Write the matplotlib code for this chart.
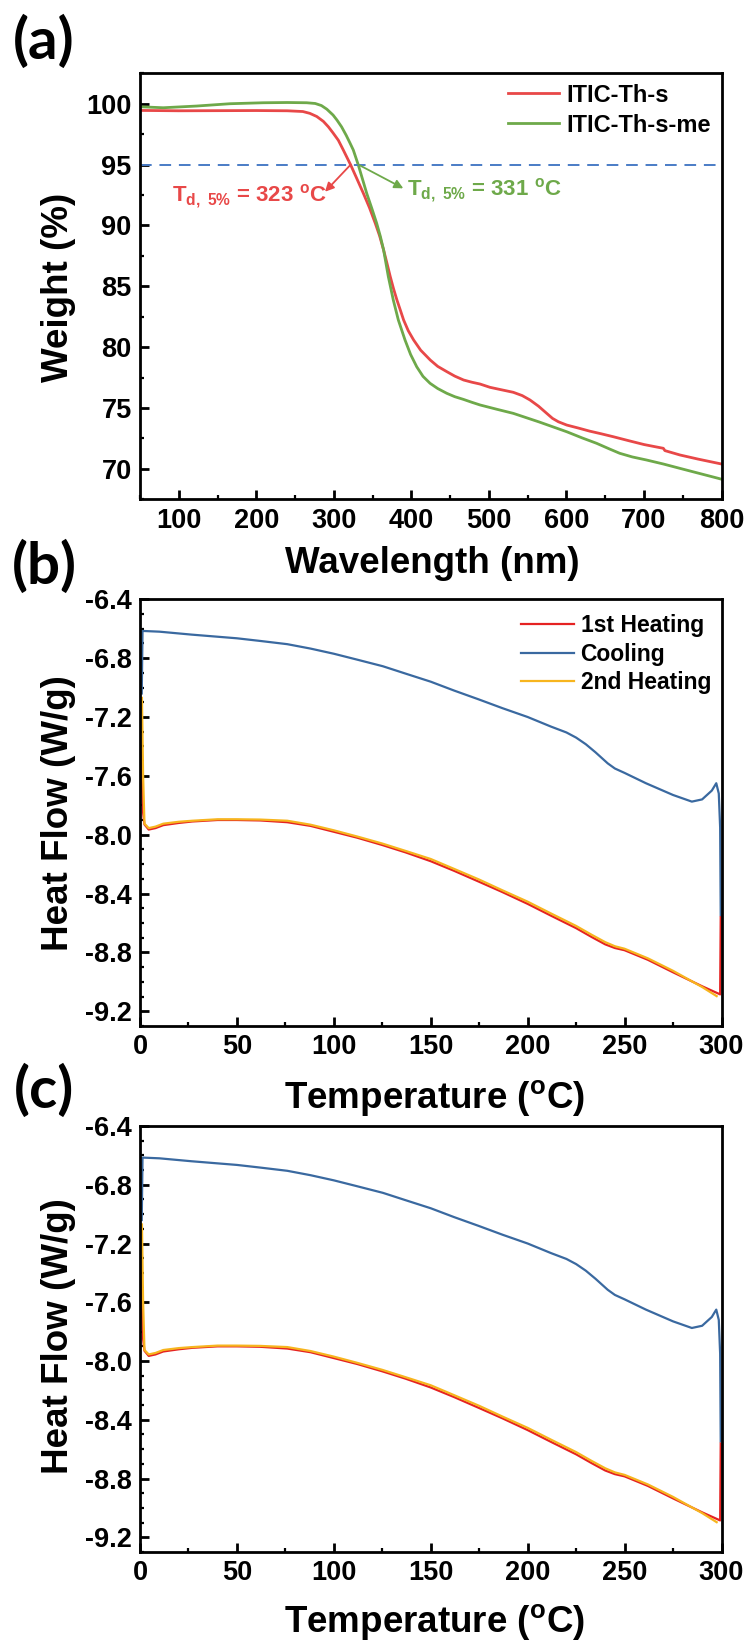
import matplotlib
matplotlib.use('Agg')
import matplotlib.pyplot as plt
from matplotlib.ticker import MultipleLocator, FormatStrFormatter

plt.rcParams['font.family'] = ['Liberation Sans', 'DejaVu Sans']
plt.rcParams['font.weight'] = 'bold'
plt.rcParams['axes.unicode_minus'] = False
plt.rcParams['mathtext.fontset'] = 'custom'
plt.rcParams['mathtext.rm'] = 'Liberation Sans:bold'
plt.rcParams['mathtext.bf'] = 'Liberation Sans:bold'
plt.rcParams['mathtext.it'] = 'Liberation Sans:bold'
plt.rcParams['mathtext.default'] = 'bf'

# ---------------- data: (a) TGA ----------------
tga_s_x = [50, 100, 150, 200, 240, 260, 269, 278, 286.5, 293, 299, 305.8, 312.2, 321.8,
           330, 338.1, 346, 353.5, 359, 364.2, 368.5, 372.8, 377, 381.4, 386, 390, 396,
           402.9, 412, 424.4, 434, 445.9, 456, 467.4, 478, 488.6, 501.4, 516, 531.5, 543,
           553, 564, 574.6, 582, 589.6, 600.4, 615, 630, 645, 660.5, 680, 700, 712, 725,
           727, 746.5, 770, 785, 800]
tga_s_y = [99.45, 99.42, 99.43, 99.44, 99.42, 99.36, 99.21, 98.95, 98.55, 98.1, 97.6,
           97.0, 96.2, 94.96, 93.8, 92.64, 91.45, 90.17, 89.15, 87.98, 86.9, 85.79, 84.8,
           83.87, 83.0, 82.23, 81.35, 80.59, 79.75, 78.94, 78.42, 77.98, 77.62, 77.3, 77.12,
           76.97, 76.7, 76.5, 76.29, 76.02, 75.66, 75.15, 74.56, 74.15, 73.87, 73.6, 73.36,
           73.1, 72.88, 72.64, 72.32, 72.0, 71.85, 71.69, 71.5, 71.14, 70.8, 70.6, 70.4]

tga_me_x = [50, 80, 123, 166, 209, 240, 265, 276, 284, 291, 299, 304, 310, 316, 321,
            325.1, 331.6, 337, 342.4, 349, 355.3, 360, 364.2, 370.3, 376.7, 383.2, 391.8,
            399, 406.9, 415, 424.1, 434, 445.6, 456, 467.1, 478, 488.6, 510, 531.5, 565,
            600.4, 620, 638.9, 655, 668.7, 685, 703.2, 725, 746.5, 770, 796, 800]
tga_me_y = [99.75, 99.67, 99.81, 100.0, 100.08, 100.1, 100.08, 100.02, 99.85, 99.55,
            99.07, 98.66, 98.1, 97.4, 96.75, 96.2, 94.96, 93.8, 92.64, 91.4, 90.17, 89.1,
            87.98, 85.79, 83.87, 82.23, 80.59, 79.4, 78.39, 77.6, 77.03, 76.6, 76.21, 75.93,
            75.71, 75.47, 75.25, 74.9, 74.56, 73.85, 73.05, 72.55, 72.1, 71.65, 71.28,
            70.98, 70.73, 70.4, 70.04, 69.65, 69.22, 69.15]

tga_labels = ['ITIC-Th-s', 'ITIC-Th-s-me']
td5_values = [323, 331]
td5_line = 95

# ---------------- data: (b), (c) DSC ----------------
heat1_x = [0, 0.8, 1.6, 2.3, 4.5, 8, 12, 20, 27, 40, 50, 62, 76, 88, 100, 112, 125, 137,
           150, 162, 175, 187, 200, 212, 225, 233, 240, 245, 250, 262, 275, 290, 299.3,
           299.6]
heat1_y = [-7.30, -7.60, -7.85, -7.93, -7.965, -7.955, -7.935, -7.92, -7.91, -7.90,
           -7.90, -7.903, -7.915, -7.94, -7.98, -8.02, -8.07, -8.12, -8.18, -8.245, -8.32,
           -8.39, -8.47, -8.55, -8.635, -8.695, -8.745, -8.77, -8.785, -8.85, -8.935,
           -9.03, -9.085, -8.56]

cool_x = [0.9, 1.3, 10, 26.6, 50, 62, 76, 88, 100, 112, 125.3, 137, 150, 162, 174.7, 187,
          200, 212, 220, 225, 230, 235, 241.3, 245, 250, 261, 275, 284.7, 290, 295, 297.3,
          298.6, 299.3, 299.6]
cool_y = [-7.04, -6.615, -6.62, -6.64, -6.665, -6.683, -6.705, -6.735, -6.77, -6.81,
          -6.855, -6.905, -6.96, -7.02, -7.08, -7.14, -7.20, -7.265, -7.305, -7.34, -7.385,
          -7.44, -7.515, -7.55, -7.58, -7.65, -7.73, -7.775, -7.76, -7.70, -7.65, -7.72,
          -7.95, -8.546]

heat2_x = [1.0, 1.6, 2.3, 4.5, 8, 12, 20, 27, 40, 50, 62, 76, 88, 100, 112, 125, 137,
           150, 162, 175, 187, 200, 212, 225, 233, 240, 245, 250, 262, 275, 290, 297.5]
heat2_y = [-7.07, -7.60, -7.925, -7.955, -7.945, -7.925, -7.912, -7.905, -7.895, -7.895,
           -7.897, -7.905, -7.932, -7.97, -8.012, -8.06, -8.11, -8.165, -8.232, -8.305,
           -8.378, -8.455, -8.535, -8.62, -8.68, -8.73, -8.758, -8.775, -8.84, -8.925,
           -9.035, -9.097]

dsc_labels = ['1st Heating', 'Cooling', '2nd Heating']

# ---------------- style ----------------
RED_A = '#e84848'
GREEN_A = '#6ea94a'
BLUE_DASH = '#4a7cc6'
RED_B = '#e52222'
BLUE_B = '#3a69a0'
ORANGE_B = '#f7b51e'

W, H = 750, 1643
fig = plt.figure(figsize=(W / 100, H / 100), dpi=100)

L = 140 / W
AW = 581.5 / W


def rect(top_px, bottom_px):
    return [L, 1 - bottom_px / H, AW, (bottom_px - top_px) / H]


def style_axes(ax):
    for s in ax.spines.values():
        s.set_linewidth(2.0)
    ax.tick_params(which='both', direction='in', top=False, right=False,
                   labelsize=19.5, pad=6)
    ax.tick_params(which='major', length=6.5, width=2)
    ax.tick_params(which='minor', length=3, width=1.6)
    for lab in ax.get_xticklabels() + ax.get_yticklabels():
        lab.set_fontweight('bold')


def td_label(value):
    return r'T$_{\mathbf{d,\ 5\%}}$ = ' + str(value) + r' $^{\mathbf{o}}$C'


# ---------------- (a) ----------------
axa = fig.add_axes(rect(73.3, 499.3))
axa.plot(tga_s_x, tga_s_y, color=RED_A, lw=2.0, label=tga_labels[0])
axa.plot(tga_me_x, tga_me_y, color=GREEN_A, lw=2.0, label=tga_labels[1])
axa.axhline(td5_line, color=BLUE_DASH, lw=1.4, ls=(0, (6, 4)))
axa.set_xlim(50, 800)
axa.set_ylim(67.5, 102.5)
axa.xaxis.set_major_locator(MultipleLocator(100))
axa.xaxis.set_minor_locator(MultipleLocator(50))
axa.yaxis.set_major_locator(MultipleLocator(5))
axa.yaxis.set_minor_locator(MultipleLocator(2.5))
style_axes(axa)
axa.set_xticks([100, 200, 300, 400, 500, 600, 700, 800])
axa.set_xlabel('Wavelength (nm)', fontsize=26.5, fontweight='bold', va='center')
axa.xaxis.set_label_coords(0.502, -0.150)
axa.set_ylabel('Weight (%)', fontsize=26.5, fontweight='bold', va='center')
axa.yaxis.set_label_coords(-0.141, 0.497)
axa.legend(loc='upper right', bbox_to_anchor=(0.982, 0.976), frameon=False,
           handlelength=2.2, handletextpad=0.3, labelspacing=0.3,
           borderpad=0, borderaxespad=0, prop={'weight': 'bold', 'size': 17})

# T_d,5% annotations
axa.annotate('', xy=(288.6, 92.77), xytext=(td5_values[0] - 1.2, td5_line),
             arrowprops=dict(arrowstyle='-|>', color=RED_A, lw=1.3,
                             mutation_scale=13, shrinkA=0, shrinkB=0))
axa.annotate('', xy=(389.6, 93.05), xytext=(td5_values[1] + 0.6, td5_line),
             arrowprops=dict(arrowstyle='-|>', color=GREEN_A, lw=1.3,
                             mutation_scale=13, shrinkA=0, shrinkB=0))
axa.text(90.9, 91.95, td_label(td5_values[0]),
         color=RED_A, fontsize=16, fontweight='bold', ha='left', va='baseline')
axa.text(394.8, 92.5, td_label(td5_values[1]),
         color=GREEN_A, fontsize=16, fontweight='bold', ha='left', va='baseline')


# ---------------- (b), (c) ----------------
def dsc_panel(top_px, bottom_px, legend, ylab_y, xlab_y):
    ax = fig.add_axes(rect(top_px, bottom_px))
    ax.plot(heat1_x, heat1_y, color=RED_B, lw=1.6, label=dsc_labels[0])
    ax.plot(cool_x, cool_y, color=BLUE_B, lw=1.6, label=dsc_labels[1])
    ax.plot(heat2_x, heat2_y, color=ORANGE_B, lw=1.6, label=dsc_labels[2])
    ax.set_xlim(0, 300)
    ax.set_ylim(-9.3, -6.4)
    ax.xaxis.set_major_locator(MultipleLocator(50))
    ax.xaxis.set_minor_locator(MultipleLocator(25))
    ax.set_yticks([-9.2, -8.8, -8.4, -8.0, -7.6, -7.2, -6.8, -6.4])
    ax.yaxis.set_minor_locator(MultipleLocator(0.1))
    ax.yaxis.set_major_formatter(FormatStrFormatter('%.1f'))
    style_axes(ax)
    ax.set_xlabel(r'Temperature ($^{\mathbf{o}}$C)', fontsize=26.5, fontweight='bold', va='center')
    ax.xaxis.set_label_coords(0.507, xlab_y)
    ax.set_ylabel('Heat Flow (W/g)', fontsize=26.5, fontweight='bold', va='center')
    ax.yaxis.set_label_coords(-0.141, ylab_y)
    if legend:
        ax.legend(loc='upper right', bbox_to_anchor=(0.982, 0.966), frameon=False,
                  handlelength=2.3, handletextpad=0.3, labelspacing=0.25,
                  borderpad=0, borderaxespad=0, prop={'weight': 'bold', 'size': 16.5})
    return ax


axb = dsc_panel(599.3, 1026, True, 0.499, -0.169)
axc = dsc_panel(1126, 1552, False, 0.506, -0.165)

# panel letters
for lab, yc in [('(a)', 42), ('(b)', 567), ('(c)', 1091)]:
    fig.text(44 / W, 1 - yc / H, lab, fontsize=42, fontweight='bold',
             family=['Lato', 'DejaVu Sans'], ha='center', va='center')

fig.savefig('out.png', dpi=100)
